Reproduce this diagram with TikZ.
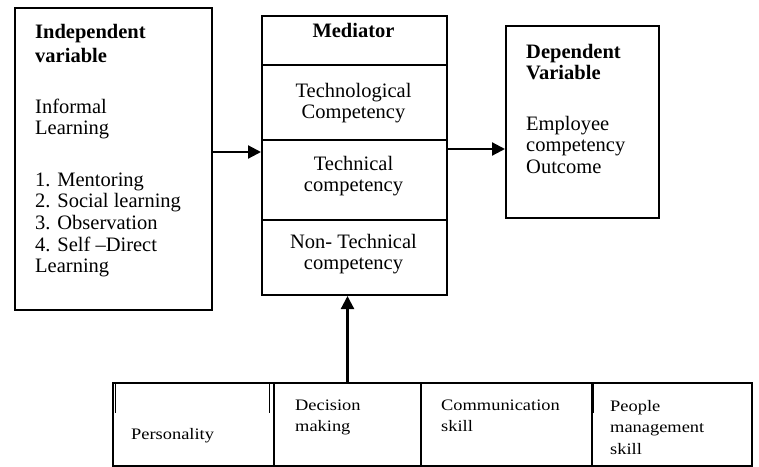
\documentclass[tikz,border=0pt]{standalone}
\usepackage{fontspec}
\setmainfont{Liberation Serif}
\newfontfamily\bottomfont[FakeStretch=1.15]{Liberation Serif}
\usetikzlibrary{arrows.meta,calc}
\newcommand\mlines[2]{\begin{tabular}[t]{@{}#1@{}}#2\end{tabular}}
\begin{document}
\begin{tikzpicture}[x=1pt,y=-1pt,
  box/.style={draw,line width=2pt,inner sep=0pt,anchor=north west},
  txt/.style={inner sep=0pt,font=\fontsize{20.5}{21.7}\selectfont},
  btxt/.style={inner sep=0pt,anchor=base west,font=\bottomfont\fontsize{16}{21.7}\selectfont},
  arr/.style={line width=2.2pt,-{Triangle[length=13pt,width=13pt]}}]
\useasboundingbox (0,0) rectangle (759,466);

% boxes
\node[box,minimum width=197pt,minimum height=302pt] (ind) at (14,7) {};
\node[box,minimum width=185pt,minimum height=49pt] (m1) at (261,15) {};
\node[box,minimum width=185pt,minimum height=75pt] (m2) at (261,64) {};
\node[box,minimum width=185pt,minimum height=80pt] (m3) at (261,139) {};
\node[box,minimum width=185pt,minimum height=75pt] (m4) at (261,219) {};
\node[box,minimum width=153pt,minimum height=192pt] (dep) at (505,25) {};
\node[box,minimum width=161pt,minimum height=83pt] (b1) at (112,382) {};
\node[box,minimum width=147pt,minimum height=83pt] (b2) at (273,382) {};
\node[box,minimum width=171pt,minimum height=83pt] (b3) at (420,382) {};
\node[box,minimum width=160pt,minimum height=83pt] (b4) at (591,382) {};

% small doubled border strokes at the top of the bottom row
\draw[line width=1.2pt] (115.5,383) -- (115.5,413);
\draw[line width=1.2pt] (269.5,383) -- (269.5,413);
\draw[line width=1.2pt] (593.5,383) -- (593.5,413);

% left box text
\node[txt,anchor=base west,font=\bfseries\fontsize{20.5}{24}\selectfont] (t1) at (35,38) {\mlines{l}{Independent\\variable}};
\node[txt,anchor=base west] (t2) at (35,113) {\mlines{l}{Informal\\Learning}};
\node[txt,anchor=base west] (t3) at (35,186) {\mlines{l}{1. Mentoring\\2. Social learning\\3. Observation\\4. Self \textendash Direct\\Learning}};

% mediator text
\node[txt,anchor=base,font=\bfseries\fontsize{20.5}{21.7}\selectfont] (t4) at (353.5,37) {Mediator};
\node[txt,anchor=base] (t5) at (353.5,97) {\mlines{c}{Technological\\Competency}};
\node[txt,anchor=base] (t6) at (353.5,170) {\mlines{c}{Technical\\competency}};
\node[txt,anchor=base] (t7) at (353.5,248) {\mlines{c}{Non- Technical\\competency}};

% dependent text
\node[txt,anchor=base west,font=\bfseries\fontsize{20.5}{21.7}\selectfont] (t8) at (526,58) {\mlines{l}{Dependent\\Variable}};
\node[txt,anchor=base west] (t9) at (526,130) {\mlines{l}{Employee\\competency\\Outcome}};

% bottom text
\node[btxt] (t10) at (131,439) {Personality};
\node[btxt] (t11) at (295,410) {\mlines{l}{Decision\\making}};
\node[btxt] (t12) at (441,410) {\mlines{l}{Communication\\skill}};
\node[btxt] (t13) at (610,411) {\mlines{l}{People\\management\\skill}};

% connectors
\coordinate (a1) at (0,152);
\coordinate (a2) at (0,149);
\draw[arr] (ind.east |- a1) -- (m3.west |- a1);
\draw[arr] (m3.east |- a2) -- (dep.west |- a2);
\draw[arr] (b2.north) -- (b2.north |- m4.south);
\end{tikzpicture}
\end{document}
